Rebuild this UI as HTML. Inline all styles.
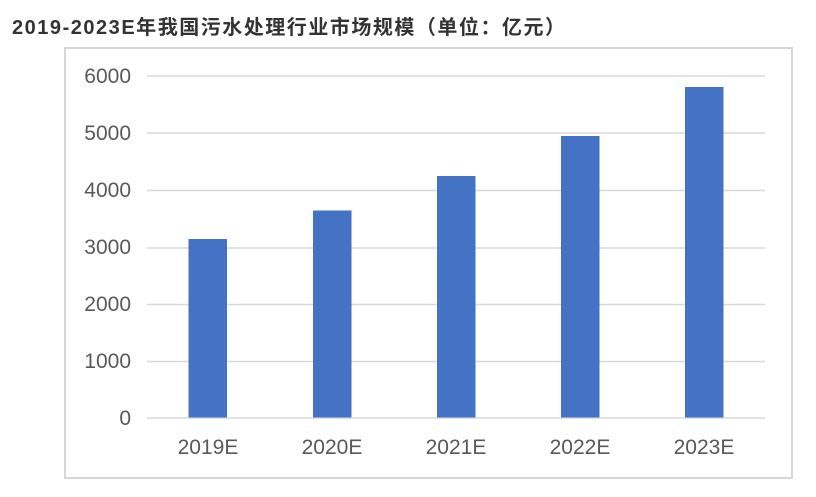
<!DOCTYPE html>
<html>
<head>
<meta charset="utf-8">
<style>
  html, body { margin: 0; padding: 0; background: #ffffff; }
  body { width: 816px; height: 497px; overflow: hidden; }
  svg { display: block; }
</style>
</head>
<body>
<svg width="816" height="497" viewBox="0 0 816 497" xmlns="http://www.w3.org/2000/svg">
  <rect x="0" y="0" width="816" height="497" fill="#ffffff"/>
  <!-- Title -->
  <text x="12" y="34" font-family="'Liberation Sans', 'Noto Sans CJK SC', sans-serif" font-size="20" font-weight="bold" fill="#333333" textLength="553" lengthAdjust="spacing">2019-2023E年我国污水处理行业市场规模（单位：亿元）</text>

  <!-- Frame -->
  <rect x="65" y="48" width="727" height="430" fill="#ffffff" stroke="#d6d6d6" stroke-width="2"/>

  <!-- Gridlines -->
  <g stroke="#d9d9d9" stroke-width="1.6">
    <line x1="147" y1="76" x2="765" y2="76"/>
    <line x1="147" y1="133" x2="765" y2="133"/>
    <line x1="147" y1="190.5" x2="765" y2="190.5"/>
    <line x1="147" y1="248" x2="765" y2="248"/>
    <line x1="147" y1="304.5" x2="765" y2="304.5"/>
    <line x1="147" y1="361.5" x2="765" y2="361.5"/>
    <line x1="147" y1="418" x2="765" y2="418"/>
  </g>

  <!-- Bars -->
  <g fill="#4472C4">
    <rect x="188.5" y="239" width="38.5" height="178.5"/>
    <rect x="313" y="210.5" width="38.5" height="207"/>
    <rect x="437" y="176" width="38.5" height="241.5"/>
    <rect x="561" y="136" width="38.5" height="281.5"/>
    <rect x="685" y="87" width="38.5" height="330.5"/>
  </g>

  <!-- Y axis labels -->
  <g font-family="'Liberation Sans', sans-serif" font-size="21" fill="#595959" text-anchor="end">
    <text x="131" y="83">6000</text>
    <text x="131" y="140">5000</text>
    <text x="131" y="197">4000</text>
    <text x="131" y="254">3000</text>
    <text x="131" y="311">2000</text>
    <text x="131" y="368">1000</text>
    <text x="131" y="425">0</text>
  </g>

  <!-- X axis labels -->
  <g font-family="'Liberation Sans', sans-serif" font-size="21" fill="#595959" text-anchor="middle">
    <text x="208" y="454">2019E</text>
    <text x="332" y="454">2020E</text>
    <text x="456" y="454">2021E</text>
    <text x="580" y="454">2022E</text>
    <text x="704" y="454">2023E</text>
  </g>
</svg>
</body>
</html>
